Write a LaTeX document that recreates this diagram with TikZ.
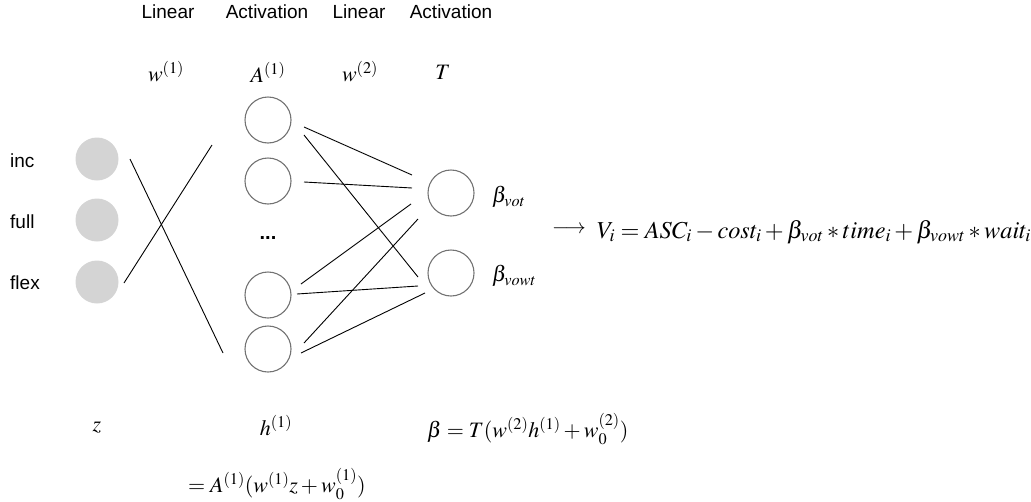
\documentclass[tikz,border=0pt]{standalone}
\usepackage{mathptmx}
\usepackage[no-math]{fontspec}
\setsansfont{Liberation Sans}
\usetikzlibrary{calc}
\tikzset{
  hdr/.style={font=\sffamily\fontsize{19}{22}\selectfont, inner sep=0pt},
  inlbl/.style={font=\sffamily\fontsize{19}{22}\selectfont, inner sep=0pt, anchor=west},
  mth/.style={font=\fontsize{22}{26}\selectfont, inner sep=0pt},
  inneuron/.style={circle, fill=black!17, draw=none, minimum size=43pt, inner sep=0pt},
  neuron/.style={circle, draw=black!55, line width=1.1pt, minimum size=46pt, inner sep=0pt},
  wire/.style={draw=black, line width=0.9pt}
}
\begin{document}
\begin{tikzpicture}[x=1pt,y=-1pt]
\useasboundingbox (0,0) rectangle (1031,501);
% headers
\node[hdr] (hl1) at (168,12) {Linear};
\node[hdr] (ha1) at (267,12) {Activation};
\node[hdr] (hl2) at (359,12) {Linear};
\node[hdr] (ha2) at (451,12) {Activation};
\node[mth] (mw1) at (166,72) {$w^{(1)}$};
\node[mth] (ma1) at (268,72) {$A^{(1)}$};
\node[mth] (mw2) at (360,72) {$w^{(2)}$};
\node[mth] (mt) at (443,72) {$T$};
% inputs
\node[inneuron] (in1) at (97,159) {};
\node[inneuron] (in2) at (97,220) {};
\node[inneuron] (in3) at (97,282) {};
\node[inlbl] (linc) at (10,161) {inc};
\node[inlbl] (lfull) at (10,222) {full};
\node[inlbl] (lflex) at (10,283) {flex};
% hidden
\node[neuron] (h1) at (268,120) {};
\node[neuron] (h2) at (268,181) {};
\node[inner sep=0pt, font=\sffamily\bfseries\fontsize{20}{22}\selectfont] (hdots) at (268,238) {...};
\node[neuron] (h4) at (268,295) {};
\node[neuron] (h5) at (268,349) {};
% outputs
\node[neuron] (o1) at (451,193) {};
\node[neuron] (o2) at (451,273) {};
\node[mth, anchor=west] (bvot) at (492,197) {$\beta_{vot}$};
\node[mth, anchor=west] (bvowt) at (492,276) {$\beta_{vowt}$};
% arrow and equation
\node[mth, font=\fontsize{21}{25}\selectfont] (arr) at (569,230) {$\longrightarrow$};
\node[mth, anchor=west, font=\fontsize{24.3}{29}\selectfont] (veq) at (597,232) {$V_i = ASC_i - cost_i + \beta_{vot} * time_i + \beta_{vowt} * wait_i$};
% bottom
\node[mth] (bz) at (97,428) {$z$};
\node[mth] (bh) at (276,426) {$h^{(1)}$};
\node[mth, anchor=west] (bbeta) at (427,429) {$\beta = T(w^{(2)}h^{(1)} + w_0^{(2)})$};
\node[mth, anchor=west] (beq) at (188,484) {$= A^{(1)}(w^{(1)}z + w_0^{(1)})$};
% crossing lines between input and hidden layer
\coordinate (x1a) at (130,159);
\coordinate (x1b) at (223,353);
\coordinate (x2a) at (124,283);
\coordinate (x2b) at (212,145);
\draw[wire] (x1a) -- (x1b);
\draw[wire] (x2a) -- (x2b);
% hidden to output
\coordinate (p1) at (304,127); \coordinate (q1) at (412,175);
\coordinate (p2) at (304,135); \coordinate (q2) at (418,277);
\coordinate (p3) at (304,182); \coordinate (q3) at (412,188);
\coordinate (p4) at (301,284); \coordinate (q4) at (411,204);
\coordinate (p5) at (297,294); \coordinate (q5) at (418,286);
\coordinate (p6) at (304,343); \coordinate (q6) at (418,219);
\coordinate (p7) at (301,353); \coordinate (q7) at (425,293);
\foreach \i in {1,...,7} {\draw[wire] (p\i) -- (q\i);}
\end{tikzpicture}
\end{document}
